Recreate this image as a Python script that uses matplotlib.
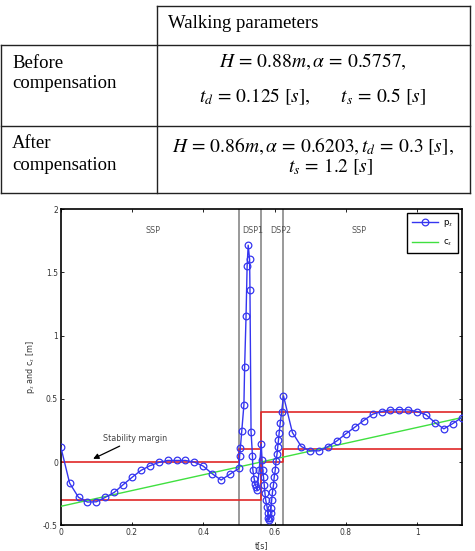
import matplotlib
matplotlib.use("Agg")
import matplotlib.pyplot as plt

# ---------------- data ----------------
row_labels = ["Before\ncompensation", "After\ncompensation"]
header = "Walking parameters"
before_lines = [r"$H\, =\, 0.88m, \alpha\, =\, 0.5757,$",
                r"$t_d\, =\, 0.125\ [s],\qquad t_s\, =\, 0.5\ [s]$"]
after_lines = [r"$H\, =\, 0.86m, \alpha\, =\, 0.6203, t_d\, =\, 0.3\ [s],$",
               r"$t_s\, =\, 1.2\ [s]$"]

px_t = [0.000, 0.025, 0.050, 0.075, 0.100, 0.125, 0.150, 0.175, 0.200, 0.225,
        0.250, 0.275, 0.300, 0.325, 0.350, 0.375, 0.400, 0.425, 0.450, 0.475,
        0.500, 0.502, 0.504, 0.508, 0.514, 0.516, 0.520, 0.523, 0.526, 0.530,
        0.531, 0.534, 0.538, 0.539, 0.543, 0.545, 0.549, 0.551, 0.557, 0.5625,
        0.565, 0.567, 0.569, 0.571, 0.573, 0.575, 0.579, 0.581, 0.582, 0.584,
        0.587, 0.589, 0.590, 0.592, 0.594, 0.597, 0.599, 0.602, 0.604, 0.607,
        0.609, 0.611, 0.613, 0.616, 0.620, 0.625,
        0.650, 0.675, 0.700, 0.725, 0.750, 0.775, 0.800, 0.825, 0.850, 0.875,
        0.900, 0.925, 0.950, 0.975, 1.000, 1.025, 1.050, 1.075, 1.100, 1.125]
px = [0.123, -0.166, -0.279, -0.316, -0.314, -0.279, -0.240, -0.179, -0.121, -0.066,
      -0.029, -0.003, 0.013, 0.013, 0.013, 0.000, -0.032, -0.092, -0.142, -0.095,
      -0.050, 0.050, 0.110, 0.247, 0.453, 0.750, 1.156, 1.550, 1.716, 1.603,
      1.361, 0.242, 0.050, -0.061, -0.134, -0.174, -0.198, -0.220, -0.061, 0.145,
      0.018, -0.060, -0.120, -0.180, -0.245, -0.298, -0.355, -0.403, -0.442, -0.460,
      -0.440, -0.400, -0.363, -0.298, -0.240, -0.179, -0.118, -0.061, 0.005, 0.066,
      0.123, 0.176, 0.234, 0.313, 0.400, 0.524,
      0.234, 0.123, 0.089, 0.089, 0.123, 0.168, 0.224, 0.276, 0.329, 0.379,
      0.400, 0.413, 0.415, 0.413, 0.400, 0.374, 0.313, 0.263, 0.305, 0.352]

cx_t = [0.0, 1.125]
cx = [-0.350, 0.352]

margin_hi_t = [0.0, 0.5, 0.5, 0.5625, 0.5625, 0.625, 0.625, 1.125]
margin_hi = [0.0, 0.0, 0.1, 0.1, 0.0, 0.0, 0.1, 0.1]
margin_lo_t = [0.0, 0.5625, 0.5625, 1.125]
margin_lo = [-0.3, -0.3, 0.4, 0.4]

phase_bounds = [0.5, 0.5625, 0.625]
phase_names = ["SSP", "DSP1", "DSP2", "SSP"]
phase_label_t = [0.26, 0.539, 0.617, 0.837]
phase_label_y = 1.83

xticks = [0, 0.2, 0.4, 0.6, 0.8, 1]
xtick_labels = ["0", "0.2", "0.4", "0.6", "0.8", "1"]
yticks = [-0.5, 0, 0.5, 1, 1.5, 2]
ytick_labels = ["-0.5", "0", "0.5", "1", "1.5", "2"]

# ---------------- figure ----------------
W, H = 475, 551
fig = plt.figure(figsize=(W / 100, H / 100), dpi=100)
plt.rcParams["mathtext.fontset"] = "stix"

# table drawn in pixel coordinates
tab = fig.add_axes([0, 0, 1, 1])
tab.set_xlim(0, W)
tab.set_ylim(H, 0)
tab.axis("off")
lc = "#222222"
lw = 1.0
tab.plot([157, 470], [6, 6], color=lc, lw=lw)
for yy in (45, 126, 193):
    tab.plot([1, 470], [yy, yy], color=lc, lw=lw)
tab.plot([157, 157], [6, 193], color=lc, lw=lw)
tab.plot([470, 470], [6, 193], color=lc, lw=lw)
tab.plot([1, 1], [45, 193], color=lc, lw=lw)

serif = "Liberation Serif"
fs = 13.5
mfs = 14
tab.text(168, 24, header, family=serif, fontsize=fs, va="center", ha="left")
for lab, ys in zip(row_labels, ((63, 83), (144, 165))):
    l1, l2 = lab.split("\n")
    tab.text(12, ys[0], l1, family=serif, fontsize=fs, va="center", ha="left")
    tab.text(12, ys[1], l2, family=serif, fontsize=fs, va="center", ha="left")
tab.text(313, 62, before_lines[0], fontsize=mfs, va="center", ha="center")
tab.text(313, 97, before_lines[1], fontsize=mfs, va="center", ha="center")
tab.text(313, 146, after_lines[0], fontsize=mfs, va="center", ha="center")
tab.text(331, 167, after_lines[1], fontsize=mfs, va="center", ha="center")

# chart
ax = fig.add_axes([60.7 / W, 1 - 525.3 / H, 401 / W, 316 / H])
ax.set_xlim(0, 1.125)
ax.set_ylim(-0.5, 2)

for b in phase_bounds:
    ax.axvline(b, color="#999999", lw=1.4, zorder=1)
for name, t in zip(phase_names, phase_label_t):
    ax.text(t, phase_label_y, name, fontsize=5.8, color="#555555",
            ha="center", va="center")

ax.plot(margin_hi_t, margin_hi, color="#e02828", lw=1.2, zorder=2)
ax.plot(margin_lo_t, margin_lo, color="#e02828", lw=1.2, zorder=2)
l_px, = ax.plot(px_t, px, color="#3535f0", lw=1.0, marker="o", ms=4.8,
                mfc="none", mec="#3535f0", mew=0.9, zorder=4, label=r"p$_x$")
l_cx, = ax.plot(cx_t, cx, color="#40e040", lw=1.0, zorder=3, label=r"c$_x$")

ax.annotate("Stability margin", xy=(0.091, 0.026), xytext=(0.118, 0.184),
            fontsize=5.8, color="#444444", va="center", ha="left",
            arrowprops=dict(arrowstyle="-|>", color="black", lw=0.9,
                            shrinkA=0, shrinkB=0, mutation_scale=8))

leg = ax.legend(handles=[l_px, l_cx], loc="upper right",
                bbox_to_anchor=(0.991, 0.988), borderaxespad=0,
                fontsize=6.2, fancybox=False, framealpha=1,
                edgecolor="black", handlelength=3.0, borderpad=0.6,
                labelspacing=1.0, handletextpad=0.5)
leg.get_frame().set_linewidth(1.0)

ax.set_xticks(xticks)
ax.set_xticklabels(xtick_labels)
ax.set_yticks(yticks)
ax.set_yticklabels(ytick_labels)
ax.tick_params(direction="in", length=2.5, width=0.6, labelsize=5.5,
               labelcolor="#333333", top=True, right=True, pad=2)
for s in ax.spines.values():
    s.set_linewidth(1.2)
    s.set_color("black")
ax.set_xlabel("t[s]", fontsize=5.8, color="#333333", labelpad=3)
ax.set_ylabel(r"p$_x$ and c$_x$ [m]", fontsize=5.8, color="#333333", labelpad=4)

fig.savefig("out.png", dpi=100)
